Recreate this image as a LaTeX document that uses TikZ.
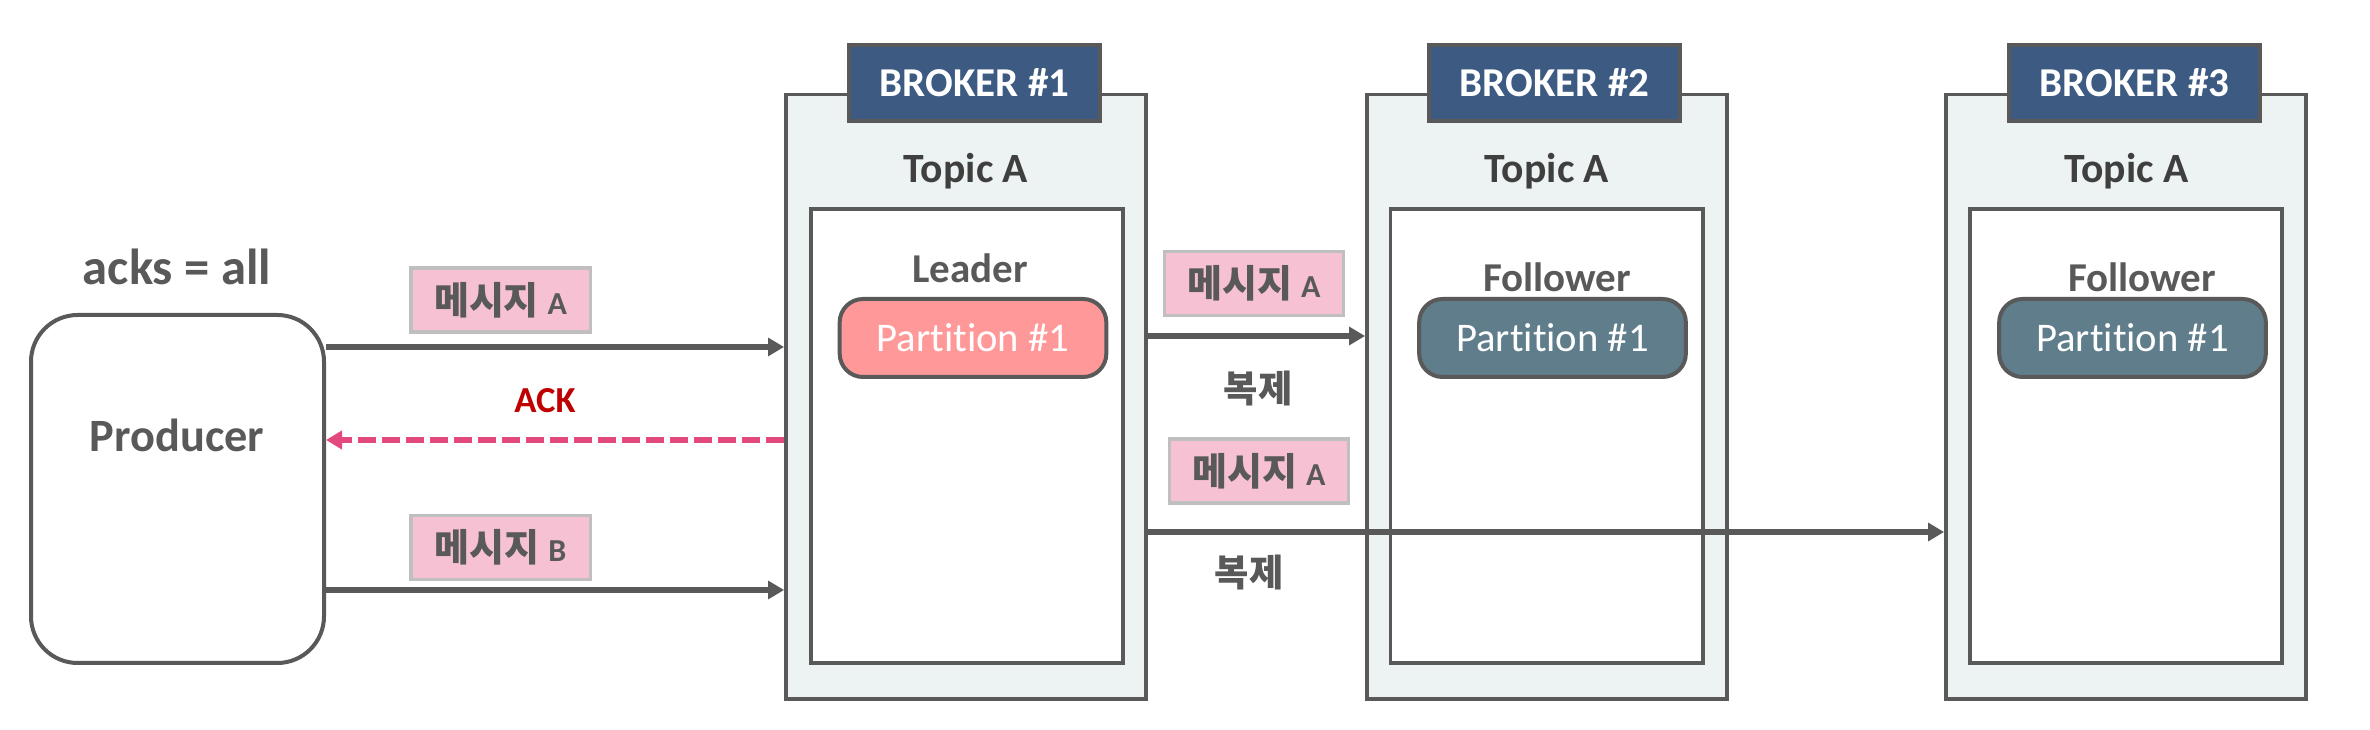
\documentclass[tikz,border=0pt]{standalone}
\usepackage{fontspec}
\setmainfont{Carlito}[Ligatures=NoCommon]
\newfontfamily\kr{Noto Sans CJK KR}
\usetikzlibrary{arrows.meta}
\definecolor{ln}{HTML}{595959}
\definecolor{brk}{HTML}{EDF3F3}
\definecolor{hdrc}{HTML}{3C5A82}
\definecolor{lead}{HTML}{FF9999}
\definecolor{foll}{HTML}{607D8B}
\definecolor{msgf}{HTML}{F5C1D3}
\definecolor{msgb}{HTML}{BFBFBF}
\definecolor{ackc}{HTML}{E2497E}
\definecolor{ackt}{HTML}{C00000}
\definecolor{topt}{HTML}{3F3F3F}
\begin{document}
\begin{tikzpicture}[x=0.3pt,y=-0.3pt,
  brokerbox/.style={draw=ln, line width=1.15pt, fill=brk, inner sep=0pt, minimum width=108pt, minimum height=181.35pt},
  innerbox/.style={draw=ln, line width=1.1pt, fill=white, inner sep=0pt, minimum width=93.7pt, minimum height=136.2pt},
  hdr/.style={draw=ln, line width=1.1pt, fill=hdrc, inner sep=0pt, minimum width=75.3pt, minimum height=22.8pt, text=white, font=\fontsize{12.3}{14}\selectfont\bfseries},
  partbox/.style={draw=ln, line width=1.2pt, rounded corners=7pt, inner sep=0pt, minimum width=80pt, minimum height=23.4pt, text=white, font=\fontsize{12.2}{14}\selectfont},
  msg/.style={draw=msgb, line width=1pt, fill=msgf, inner sep=0pt, minimum width=53.8pt, minimum height=19.2pt, text=ln},
  topic/.style={inner sep=0pt, anchor=base, text=topt, font=\fontsize{12.5}{14}\selectfont\bfseries},
  role/.style={inner sep=0pt, anchor=base, text=ln, font=\fontsize{12.3}{14}\selectfont\bfseries},
  rep/.style={inner sep=0pt, text=ln, font=\fontsize{11.2}{13}\selectfont\kr\bfseries},
  arr/.style={draw=ln, line width=1.7pt, -{Triangle[length=4.8pt,width=5.3pt]}},
  ackarr/.style={draw=ackc, line width=1.8pt, dash pattern=on 5.4pt off 1.8pt, -{Triangle[length=4.8pt,width=5.4pt]}}
]
\newcommand\msgtext[1]{\fontsize{11.4}{12}\selectfont{\kr\bfseries 메시지} \bfseries\fontsize{9.6}{12}\selectfont #1}
\useasboundingbox (0,0) rectangle (2370,730);

% Producer
\node[draw=ln, line width=1.2pt, rounded corners=14pt, fill=white, inner sep=0pt, minimum width=87.9pt, minimum height=104.4pt] (prod) at (177.5,489) {};
\node[inner sep=0pt, anchor=base, text=ln, font=\fontsize{13.9}{16}\selectfont\bfseries] (prodt) at (177,452) {Producer};
\node[inner sep=0pt, anchor=base, text=ln, font=\fontsize{15.2}{17}\selectfont\bfseries] (acks) at (177,285) {acks = all};

% Brokers
\node[brokerbox] (b1) at (966,396.75) {};
\node[innerbox] (i1) at (967,436) {};
\node[hdr] (h1) at (974.5,83) {BROKER \#1};
\node[topic] (t1) at (966,182.5) {Topic A};
\node[role] (r1) at (970,283) {Leader};
\node[partbox, fill=lead] (p1) at (973,338) {Partition \#1};

\node[brokerbox] (b2) at (1547,396.75) {};
\node[innerbox] (i2) at (1546.5,436) {};
\node[hdr] (h2) at (1554.5,83) {BROKER \#2};
\node[topic] (t2) at (1547,182.5) {Topic A};
\node[role] (r2) at (1557,291.5) {Follower};
\node[partbox, fill=foll] (p2) at (1552.5,338) {Partition \#1};

\node[brokerbox] (b3) at (2126,396.75) {};
\node[innerbox] (i3) at (2126,436) {};
\node[hdr] (h3) at (2134.5,83) {BROKER \#3};
\node[topic] (t3) at (2126.5,182.5) {Topic A};
\node[role] (r3) at (2142,292) {Follower};
\node[partbox, fill=foll] (p3) at (2132.5,338) {Partition \#1};

% Message labels
\node[msg] (m1) at (500.5,300) {\msgtext{A}};
\node[msg] (m2) at (500.5,547.5) {\msgtext{B}};
\node[msg] (m3) at (1254,283.5) {\msgtext{A}};
\node[msg] (m4) at (1259,471) {\msgtext{A}};

\node[inner sep=0pt, anchor=base, text=ackt, font=\fontsize{11}{13}\selectfont\bfseries] (ackl) at (545,413) {ACK};
\node[rep] (c1) at (1258,389) {복제};
\node[rep] (c2) at (1249,573) {복제};

% Connectors
\draw[arr] (prod.east |- 0,347) -- (b1.west |- 0,347);
\draw[ackarr] (b1.west |- 0,440) -- (prod.east |- 0,440);
\draw[arr] (prod.east |- 0,590) -- (b1.west |- 0,590);
\draw[arr] (b1.east |- 0,336) -- (b2.west |- 0,336);
\draw[arr] (b1.east |- 0,532) -- (b3.west |- 0,532);
\end{tikzpicture}
\end{document}
